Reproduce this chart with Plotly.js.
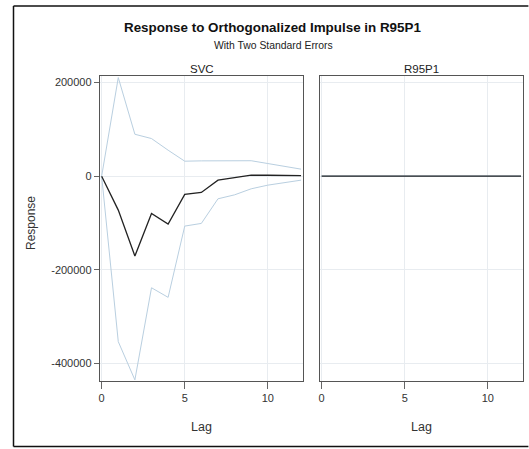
<!DOCTYPE html>
<html>
<head>
<meta charset="utf-8">
<script src="https://cdn.plot.ly/plotly-3.0.1.min.js"></script>
<style>html,body{margin:0;padding:0;background:#fff;overflow:hidden;}#chart{width:529px;height:449px;}</style>
</head>
<body>
<div id="chart"></div>
<script>
const lags = [0,1,2,3,4,5,6,7,8,9,10,11,12];
const svcResponse = [0,-72500,-170800,-79700,-102500,-39100,-34800,-8500,-3000,2000,2000,2000,1000];
const svcUpper = [0,210700,89600,80400,55500,32000,32700,33000,33000,33000,27000,21300,15000];
const svcLower = [0,-353700,-435400,-238500,-259000,-106700,-101000,-48400,-39900,-27000,-19200,-13500,-8500];
const r95Response = [0,0,0,0,0,0,0,0,0,0,0,0,0];
const r95Upper = [0,0,0,0,0,0,0,0,0,0,0,0,0];
const r95Lower = [0,0,0,0,0,0,0,0,0,0,0,0,0];
const panelTitles = ["SVC","R95P1"];
const yTicks = [200000,0,-200000,-400000];
const yTickText = ["200000","0","-200000","-400000"];
const xTicks = [0,5,10];

const bandColor = '#b9cfe0';
const lineColor = '#222222';
function band(y, xa, ya){ return {x: lags, y: y, xaxis: xa, yaxis: ya, mode:'lines', line:{color:bandColor,width:1}, hoverinfo:'skip', showlegend:false}; }
function resp(y, xa, ya){ return {x: lags, y: y, xaxis: xa, yaxis: ya, mode:'lines', line:{color:lineColor,width:1.3}, showlegend:false}; }

const data = [
  band(svcUpper,'x','y'), band(svcLower,'x','y'), resp(svcResponse,'x','y'),
  band(r95Upper,'x2','y2'), band(r95Lower,'x2','y2'), resp(r95Response,'x2','y2')
];

const fam = '"Liberation Sans", Arial, sans-serif';
const xaxisBase = {
  range:[-0.1,12.12], tickvals:xTicks, ticks:'outside', ticklen:7, tickcolor:'#666', tickwidth:1,
  showline:true, linecolor:'#555', linewidth:1.2, mirror:true, zeroline:false,
  showgrid:true, gridcolor:'#e8ecf0', gridwidth:1,
  tickfont:{family:fam, size:11, color:'#333'},
  title:{text:'Lag', font:{family:fam, size:12.5, color:'#333'}, standoff:18}
};
const yaxisBase = {
  range:[-437800,214100], tickvals:yTicks, ticktext:yTickText, ticks:'outside', ticklen:5, tickcolor:'#666', tickwidth:1,
  showline:true, linecolor:'#555', linewidth:1.2, mirror:true, zeroline:false,
  showgrid:true, gridcolor:'#e8ecf0', gridwidth:1,
  tickfont:{family:fam, size:11, color:'#333'}
};

const px = v => (v-100)/423;
const py = v => (381-v)/305;
const frameLine = (x0,y0,x1,y1) => ({type:'line', xref:'paper', yref:'paper', x0:px(x0), y0:py(y0), x1:px(x1), y1:py(y1),
  line:{color:'#111', width:1.5}, layer:'below'});

const layout = {
  width:529, height:449,
  margin:{l:100, r:6, t:76, b:68},
  paper_bgcolor:'#fff', plot_bgcolor:'#fff',
  font: {family:fam, color:'#222'},
  showlegend:false,
  xaxis: Object.assign({}, xaxisBase, {domain:[0,0.48], anchor:'y'}),
  xaxis2: Object.assign({}, xaxisBase, {domain:[0.52,1], anchor:'y2'}),
  yaxis: Object.assign({}, yaxisBase, {domain:[0,1], anchor:'x'}),
  yaxis2: Object.assign({}, yaxisBase, {domain:[0,1], anchor:'x2', matches:'y', showticklabels:false, ticks:''}),
  annotations:[
    {text:'<b>Response to Orthogonalized Impulse in R95P1</b>', xref:'paper', yref:'paper', x:px(272), y:py(27), showarrow:false,
     xanchor:'center', yanchor:'middle', font:{family:fam, size:13.4, color:'#111'}},
    {text:'With Two Standard Errors', xref:'paper', yref:'paper', x:px(273), y:py(46), showarrow:false,
     xanchor:'center', yanchor:'middle', font:{family:fam, size:10.4, color:'#222'}},
    {text:'Response', xref:'paper', yref:'paper', x:px(31), y:py(223), showarrow:false, textangle:-90,
     xanchor:'center', yanchor:'middle', font:{family:fam, size:12, color:'#333'}},
    {text:panelTitles[0], xref:'x domain', yref:'paper', x:0.5, y:1, yanchor:'bottom', xanchor:'center', showarrow:false,
     font:{family:fam, size:11.5, color:'#222'}, yshift:-1},
    {text:panelTitles[1], xref:'x2 domain', yref:'paper', x:0.5, y:1, yanchor:'bottom', xanchor:'center', showarrow:false,
     font:{family:fam, size:11.5, color:'#222'}, yshift:-1}
  ],
  shapes:[
    frameLine(13.5,6,13.5,446.5),
    frameLine(13.5,6,528.4,6),
    frameLine(13.5,446.5,528.4,446.5)
  ]
};

Plotly.newPlot('chart', data, layout, {displayModeBar:false, staticPlot:true});
</script>
</body>
</html>
